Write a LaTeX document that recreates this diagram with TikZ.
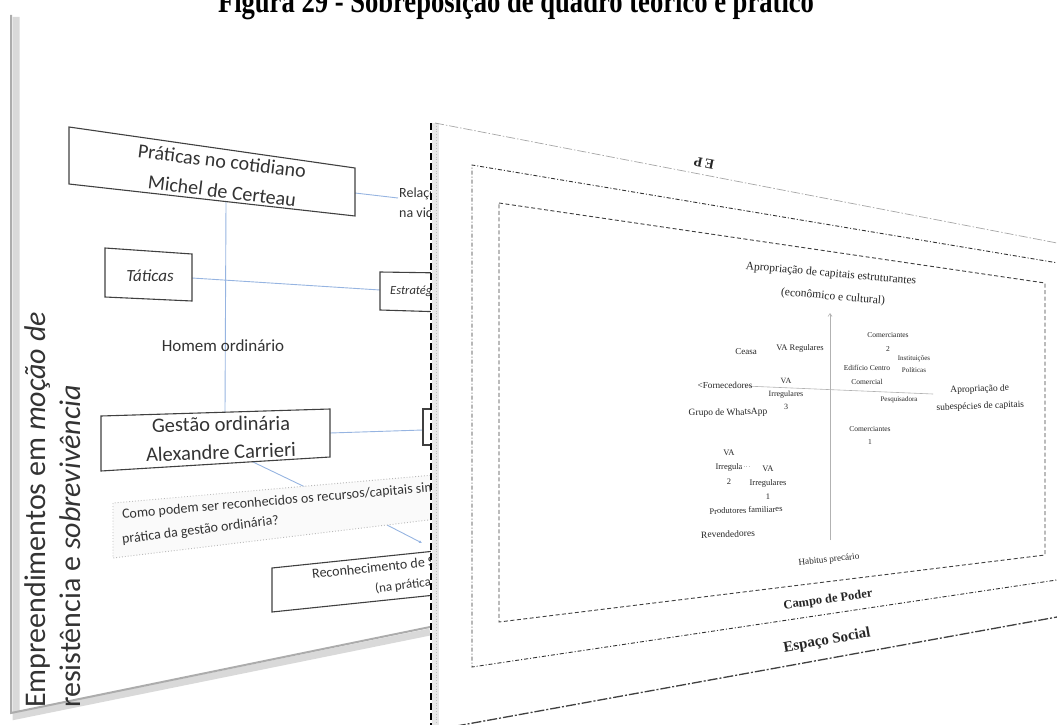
\documentclass[tikz,border=0pt]{standalone}
\usepackage{fontspec}
\setmainfont{Liberation Serif}
\newfontfamily\calibri{Carlito}
\usetikzlibrary{positioning,arrows.meta}
\definecolor{linkblue}{RGB}{150,180,225}
\newcommand{\fsz}[2]{\fontsize{#1}{#2}\selectfont}

\begin{document}
\begin{tikzpicture}[x=1pt,y=-1pt,
    slidebox/.style={draw=black!75,line width=1.1},
    link/.style={draw=linkblue,line width=0.9},
    cal/.style={inner sep=0,text=black!80},
    tim/.style={inner sep=0,text=black!85,align=center}]
    \clip (0,0) rectangle (1057,725);
    \useasboundingbox (0,0) rectangle (1057,725);

    % title
    \node[inner sep=0,anchor=base,yscale=1.25,font=\bfseries\fsz{26.6}{30}] (title) at (516,13) {Figura 29 - Sobreposição de quadro teórico e prático};

    % left slide (theory)
    \draw[gray!30,line width=7] (16,17) -- (16,716) -- (430,632);
    \draw[gray!65,line width=2] (11,15) -- (11,713) -- (430,627);

    \coordinate (praticasS) at (226,202);
    \coordinate (praticasE) at (355,193);
    \coordinate (relacoesW) at (398,198);
    \coordinate (taticasE) at (192,278);
    \coordinate (estrategiasW) at (380,290);
    \coordinate (gestaoN) at (225,412);
    \coordinate (gestaoE) at (330,433);
    \coordinate (gestaoS) at (253,462);
    \coordinate (boxrightW) at (423,430);
    \coordinate (questionN) at (305,487);
    \coordinate (questionE) at (387,525);
    \coordinate (reconhecN) at (422,543);

    \draw[link] (praticasS) -- (gestaoN);
    \draw[link] (praticasE) -- (relacoesW);
    \draw[link] (taticasE) -- (estrategiasW);
    \draw[link] (gestaoE) -- (boxrightW);
    \draw[link] (gestaoS) -- (questionN);
    \draw[link,-{Latex[length=3,width=3]}] (questionE) -- (reconhecN);

    \draw[slidebox] (69,127) -- (355,168) -- (355,216) -- (69,184) -- cycle;
    \draw[slidebox] (105,248) -- (192,254) -- (192,301) -- (105,297) -- cycle;
    \draw[slidebox] (445,273) -- (380,272) -- (380,310) -- (445,312);
    \draw[slidebox] (101,416) -- (330,409) -- (330,457) -- (101,471) -- cycle;
    \draw[slidebox] (445,409) -- (423,409) -- (423,445) -- (445,445);
    \draw[gray!55,dotted,line width=0.9,fill=gray!4] (445,474) -- (113,503) -- (113,558) -- (445,518);
    \draw[slidebox] (445,550) -- (272,568) -- (272,612) -- (445,594);

    \node[cal,rotate=-7,font=\calibri\fsz{20}{24}] (praticas) at (222,161) {Práticas no cotidiano};
    \node[cal,rotate=-7,font=\calibri\fsz{20}{24}] (certeau) at (222,191) {Michel de Certeau};
    \node[cal,anchor=west,align=left,font=\calibri\fsz{14}{20}] (relacoes) at (399,203) {Relações de poder\\na vida cotidiana};
    \node[cal,font=\calibri\itshape\fsz{17}{20}] (taticas) at (150,276) {Táticas};
    \node[cal,anchor=west,font=\calibri\itshape\fsz{12.5}{15}] (estrategias) at (390,291) {Estratégias};
    \node[cal,font=\calibri\fsz{17}{20}] (homem) at (223,346) {Homem ordinário};
    \node[cal,rotate=1,font=\calibri\fsz{20.5}{24}] (gestao) at (221,424) {Gestão ordinária};
    \node[cal,rotate=2,font=\calibri\fsz{20.5}{24}] (carrieri) at (221,452) {Alexandre Carrieri};
    \node[cal,anchor=west,rotate=5,font=\calibri\fsz{14}{17}] (question1) at (122,515) {Como podem ser reconhecidos os recursos/capitais simbólicos na};
    \node[cal,anchor=west,rotate=7,font=\calibri\fsz{14}{17}] (question2) at (122,540) {prática da gestão ordinária?};
    \node[cal,anchor=west,rotate=6,font=\calibri\fsz{14}{17}] (reconhec1) at (312,574) {Reconhecimento de Saberes};
    \node[cal,anchor=west,rotate=7,font=\calibri\fsz{13}{16}] (reconhec2) at (375,589) {(na prática)};
    \node[cal,rotate=90,anchor=north west,align=left,font=\calibri\fsz{30}{35}] (slidetitle) at (24,708) {Empreendimentos em \textit{moção de}\\resistência e \textit{sobrevivência}};

    % right slide (practice)
    \fill[white] (431,123) -- (1057,243) -- (1057,725) -- (431,725) -- cycle;
    \fill[gray!18] (432,123) rectangle (439,725);
    \draw[gray!50,dotted,line width=0.8] (436,123) -- (436,725);
    \draw[black,line width=2,dash pattern=on 7 off 3] (431,123) -- (431,725);

    \draw[gray!70,line width=0.7,dash pattern=on 9 off 2 on 1.5 off 2] (435,123) -- (1057,243);
    \draw[black!75,line width=1.3,dash pattern=on 10 off 2 on 2 off 2] (440,729) -- (1057,617);
    \draw[black!80,line width=0.9,dash pattern=on 4 off 2 on 1 off 2] (1070,265) -- (472,165) -- (472,667) -- (1070,578);
    \draw[black!75,line width=0.9,dash pattern=on 4 off 2.5] (499,203) -- (1045,283) -- (1045,555) -- (499,622) -- cycle;

    \node[tim,rotate=169,font=\bfseries\fsz{14}{16}] (ep) at (704,163) {E\,P};

    \coordinate (axisbot) at (830,540);
    \coordinate (axistop) at (830,313);
    \coordinate (axisleft) at (745,386);
    \coordinate (axisright) at (933,394);
    \draw[gray!60,line width=0.6,-{Straight Barb[length=3,width=4]}] (axisbot) -- (axistop);
    \draw[gray!60,line width=0.6] (axisleft) -- (axisright);

    \node[tim,rotate=-5,font=\fsz{11.5}{13}] (aprop) at (831,274) {Apropriação de capitais estruturantes};
    \node[tim,rotate=-5,font=\fsz{11.5}{13}] (econ) at (833,297) {(econômico e cultural)};
    \node[tim,rotate=2,font=\fsz{9.5}{17}] (subesp) at (980,398) {Apropriação de\\subespécies de capitais};
    \node[tim,font=\fsz{9}{11}] (ceasa) at (746,352) {Ceasa};
    \node[tim,font=\fsz{8.5}{10}] (varegular) at (800,348) {VA\ Regulares};
    \node[tim,font=\fsz{7.5}{14}] (comerc2) at (888,342) {Comerciantes\\2};
    \node[tim,font=\fsz{7}{12}] (instit) at (914,364) {Instituições\\Políticas};
    \node[tim,font=\fsz{7.5}{14}] (edificio) at (867,375) {Edifício Centro\\Comercial};
    \node[tim,font=\fsz{9.2}{11}] (fornec) at (725,385) {<Fornecedores};
    \node[tim,font=\fsz{8}{13}] (vairreg3) at (786,394) {VA\\Irregulares\\3};
    \node[tim,font=\fsz{7}{9}] (pesquis) at (899,400) {Pesquisadora};
    \node[tim,rotate=1,font=\fsz{9.5}{11}] (whatsapp) at (728,413) {Grupo de WhatsApp};
    \node[tim,font=\fsz{7.5}{13}] (comerc1) at (870,436) {Comerciantes\\1};
    \node[tim,font=\fsz{8.5}{14.5}] (vairreg2) at (729,467) {VA\\Irregula\\2};
    \draw[gray!50,dotted,line width=0.6] (741,466) -- (751,466);
    \node[tim,font=\fsz{8.5}{14}] (vairreg1) at (768,483) {VA\\Irregulares\\1};
    \node[tim,rotate=2,font=\fsz{8.5}{10}] (produtores) at (746,510) {Produtores familiares};
    \node[tim,rotate=2,font=\fsz{9.5}{11}] (revend) at (728,534) {Revendedores};
    \node[tim,rotate=6,font=\fsz{9.2}{11}] (habitus) at (829,560) {Habitus\ precário};
    \node[tim,rotate=8,font=\bfseries\fsz{12.5}{14}] (campo) at (828,600) {Campo de Poder};
    \node[tim,rotate=10,font=\bfseries\fsz{15}{17}] (espaco) at (827,641) {Espaço Social};
\end{tikzpicture}
\end{document}
